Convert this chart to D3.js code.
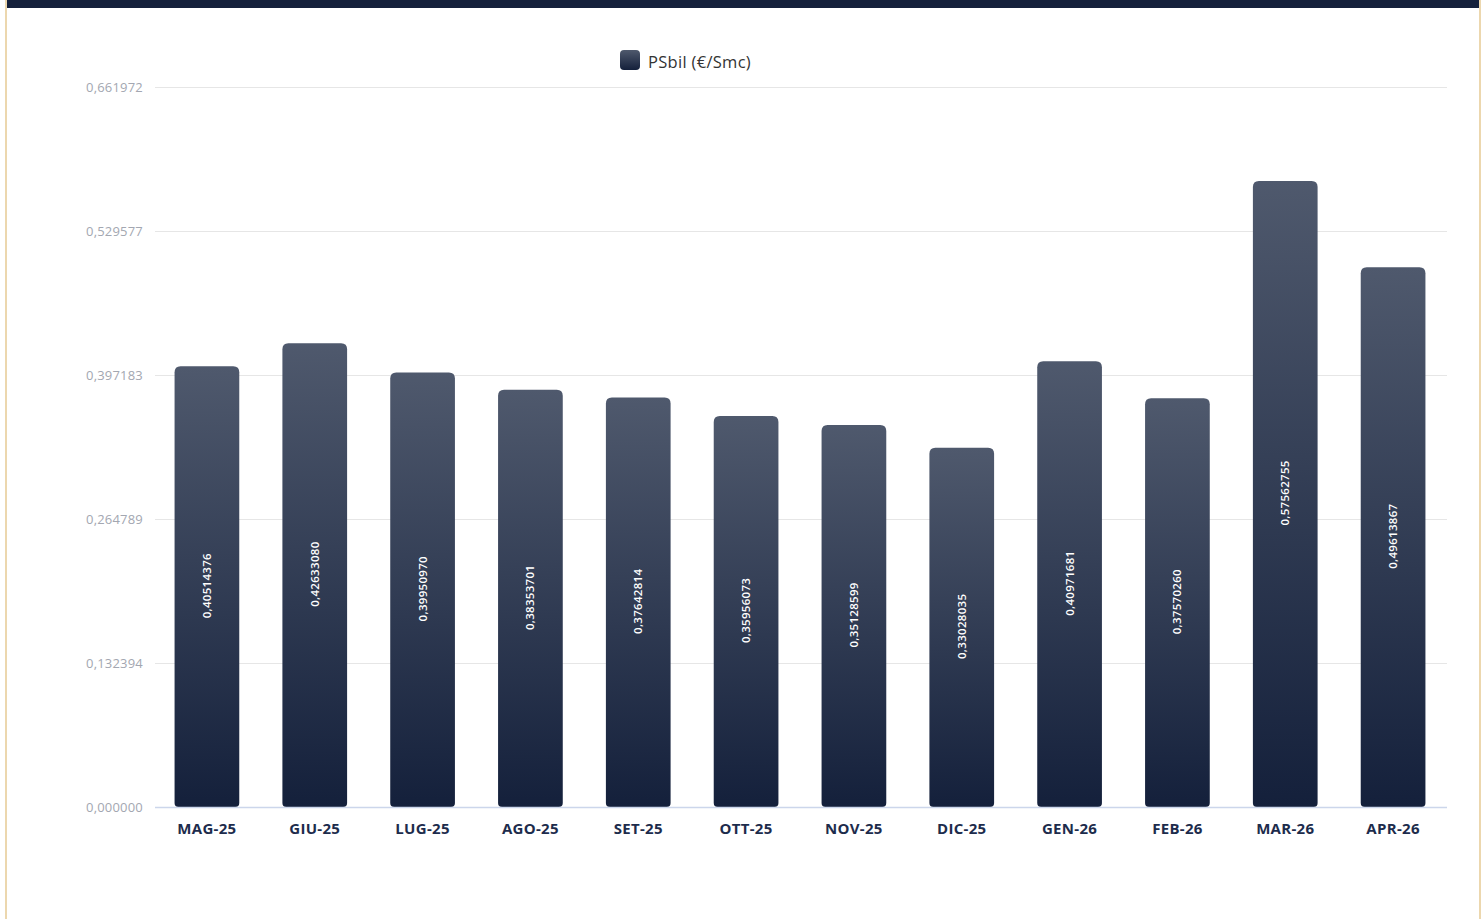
<!DOCTYPE html>
<html>
<head>
<meta charset="utf-8">
<script src="https://cdn.jsdelivr.net/npm/d3@7"></script>
<style>
  html, body { margin: 0; padding: 0; background: #fff; }
  svg { display: block; font-family: "Open Sans", sans-serif; }
</style>
</head>
<body>
<svg id="chart" width="1484" height="919"></svg>
<script>
const months = ["MAG-25", "GIU-25", "LUG-25", "AGO-25", "SET-25", "OTT-25",
                "NOV-25", "DIC-25", "GEN-26", "FEB-26", "MAR-26", "APR-26"];
const psbil = [0.40514376, 0.42633080, 0.39950970, 0.38353701, 0.37642814, 0.35956073,
               0.35128599, 0.33028035, 0.40971681, 0.37570260, 0.57562755, 0.49613867];
const yTicks = [0, 0.132394, 0.264789, 0.397183, 0.529577, 0.661972];
const seriesName = "PSbil (€/Smc)";

const width = 1484, height = 919;
const margin = {top: 87, right: 37, bottom: 112, left: 153};

const it = d3.formatLocale({decimal: ",", thousands: ".", grouping: [3], currency: ["€", ""]});
const fmtTick = it.format(".6f");
const fmtVal = it.format(".8f");

const svg = d3.select("#chart");

// gradient for bars
const defs = svg.append("defs");
const grad = defs.append("linearGradient")
    .attr("id", "barGrad")
    .attr("x1", 0).attr("y1", 0).attr("x2", 0).attr("y2", 1);
grad.append("stop").attr("offset", "0%").attr("stop-color", "#4f596d");
grad.append("stop").attr("offset", "100%").attr("stop-color", "#14203b");

// frame
svg.append("rect").attr("x", 5).attr("y", 0).attr("width", 2).attr("height", height).attr("fill", "#ecd7ae");
svg.append("rect").attr("x", 1479).attr("y", 0).attr("width", 2).attr("height", height).attr("fill", "#ecd7ae");
svg.append("rect").attr("x", 7).attr("y", 0).attr("width", 1472).attr("height", 8).attr("fill", "#15213c");

const x = d3.scaleBand(months, [margin.left, width - margin.right]).paddingInner(0.4).paddingOuter(0.2);
const y = d3.scaleLinear([0, yTicks[yTicks.length - 1]], [height - margin.bottom, margin.top]);

// grid
svg.append("g")
  .selectAll("line")
  .data(yTicks.slice(1))
  .join("line")
    .attr("x1", margin.left + 2)
    .attr("x2", width - margin.right)
    .attr("y1", d => Math.round(y(d)) + 0.5)
    .attr("y2", d => Math.round(y(d)) + 0.5)
    .attr("stroke", "#e6e6e6");

// y axis labels
const yAxis = g => g
    .attr("transform", `translate(${margin.left - 10},0)`)
    .call(d3.axisLeft(y).tickValues(yTicks).tickFormat(fmtTick).tickSize(0).tickPadding(0))
    .call(g => g.select(".domain").remove())
    .call(g => g.selectAll("text")
        .attr("fill", "#a3a7b1")
        .attr("font-size", 13)
        .attr("letter-spacing", 0.2)
        .attr("font-family", "Open Sans, sans-serif"));
svg.append("g").call(yAxis);

// bars
const r = 6;
function barPath(x0, y0, w, h) {
  const rb = 4;
  return `M${x0},${y0 + r}
          Q${x0},${y0} ${x0 + r},${y0}
          L${x0 + w - r},${y0}
          Q${x0 + w},${y0} ${x0 + w},${y0 + r}
          L${x0 + w},${y0 + h - rb}
          Q${x0 + w},${y0 + h} ${x0 + w - rb},${y0 + h}
          L${x0 + rb},${y0 + h}
          Q${x0},${y0 + h} ${x0},${y0 + h - rb}Z`;
}

const bars = svg.append("g");
bars.selectAll("path")
  .data(months.map((m, i) => ({m, v: psbil[i]})))
  .join("path")
    .attr("d", d => barPath(x(d.m), y(d.v), x.bandwidth(), y(0) - y(d.v)))
    .attr("fill", "url(#barGrad)");

// baseline
svg.append("line")
    .attr("x1", margin.left + 2).attr("x2", width - margin.right)
    .attr("y1", y(0) + 0.5).attr("y2", y(0) + 0.5)
    .attr("stroke", "#ccd6eb").attr("stroke-width", 1.5);

// data labels
svg.append("g")
  .selectAll("text")
  .data(months.map((m, i) => ({m, v: psbil[i]})))
  .join("text")
    .attr("transform", d => `translate(${x(d.m) + x.bandwidth() / 2 + 4},${(y(d.v) + y(0)) / 2 - 1}) rotate(-90)`)
    .attr("text-anchor", "middle")
    .attr("fill", "#ffffff")
    .attr("font-size", 11.5)
    .attr("letter-spacing", 0.3)
    .attr("font-weight", 600)
    .text(d => fmtVal(d.v));

// x axis labels
const xAxis = g => g
    .attr("transform", `translate(0,${y(0) + 16})`)
    .call(d3.axisBottom(x).tickSize(0).tickPadding(0))
    .call(g => g.select(".domain").remove())
    .call(g => g.selectAll("text")
        .attr("fill", "#1d2c4c")
        .attr("font-size", 15)
        .attr("letter-spacing", 0.3)
        .attr("font-weight", "bold")
        .attr("font-family", "Open Sans, sans-serif"));
svg.append("g").call(xAxis);

// legend
const legend = svg.append("g").attr("transform", "translate(620,50)");
legend.append("rect")
    .attr("width", 20).attr("height", 20).attr("rx", 4)
    .attr("fill", "url(#barGrad)");
legend.append("text")
    .attr("x", 28).attr("y", 18)
    .attr("font-size", 16.5)
    .attr("letter-spacing", 0.3)
    .attr("fill", "#333333")
    .text(seriesName);
</script>
</body>
</html>
